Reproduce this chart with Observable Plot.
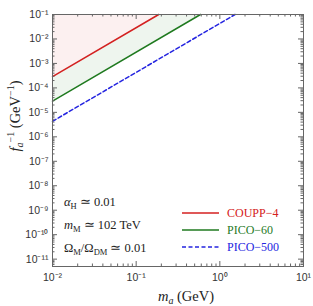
<!DOCTYPE html>
<html><head><meta charset="utf-8">
<script src="https://cdn.jsdelivr.net/npm/d3@7"></script>
<script src="https://cdn.jsdelivr.net/npm/@observablehq/plot@0.6"></script>
<style>body{margin:0;background:#fff}#c{position:relative;width:313px;height:306px}</style>
</head><body><div id="c"></div>
<script>
// Data (line endpoints: left edge and where each line exits the top)
const mCOUPP = [0.01, 0.186], fCOUPP = [2.9e-4, 0.1];
const mPICO60 = [0.01, 0.587], fPICO60 = [2.9e-5, 0.1];
const mPICO500 = [0.01, 1.52], fPICO500 = [4.3e-6, 0.1];
const xMajor = [1e-2, 1e-1, 1e0, 1e1];
const yMajor = [1e-1,1e-2,1e-3,1e-4,1e-5,1e-6,1e-7,1e-8,1e-9,1e-10,1e-11];
const seriesNames = ["COUPP\u22124", "PICO\u221260", "PICO\u2212500"];
const seriesColors = ["#d42020", "#1f7a1f", "#2424e0"];

const pts = (xs, ys) => xs.map((x, i) => ({x, y: ys[i]}));
const red = pts(mCOUPP, fCOUPP), green = pts(mPICO60, fPICO60), blue = pts(mPICO500, fPICO500);
const minorX = [], minorY = [];
for (let e = -2; e < 1; e++) for (let k = 2; k <= 9; k++) minorX.push(k * 10 ** e);
for (let e = -12; e < -1; e++) for (let k = 2; k <= 9; k++) { const v = k * 10 ** e; if (v >= 5e-12 && v <= 0.1) minorY.push(v); }

const supMap = "⁰¹²³⁴⁵⁶⁷⁸⁹";
const sup = n => "10" + String(n).replace("-", "⁻").replace(/\d/g, d => supMap[d]);
const fmt = d => sup(Math.round(Math.log10(d)));

const W = 313, H = 306, mL = 52, mR = 10, mT = 14, mB = 40;
const pw = W - mL - mR, ph = H - mT - mB;
const tc = "#666";
const chart = Plot.plot({
  width: W, height: H, marginLeft: mL, marginRight: mR, marginTop: mT, marginBottom: mB,
  style: {fontFamily: "Liberation Sans, Arial, sans-serif", fontSize: "10.5px", color: "#333", background: "#fff"},
  x: {type: "log", domain: [1e-2, 1e1]},
  y: {type: "log", domain: [5e-12, 1e-1]},
  marks: [
    Plot.areaY(green, {x: "x", y1: "y", y2: 0.1, fill: "#eef5ee"}),
    Plot.areaY(red, {x: "x", y1: "y", y2: 0.1, fill: "#fcf0f0"}),
    Plot.line(red, {x: "x", y: "y", stroke: seriesColors[0], strokeWidth: 1.5}),
    Plot.line(green, {x: "x", y: "y", stroke: seriesColors[1], strokeWidth: 1.5}),
    Plot.line(blue, {x: "x", y: "y", stroke: seriesColors[2], strokeWidth: 1.5, strokeDasharray: "4,2.5"}),
    // ticks inside frame
    Plot.tickX(xMajor, {x: d => d, insetTop: ph - 5, stroke: tc}),
    Plot.tickX(xMajor, {x: d => d, insetBottom: ph - 5, stroke: tc}),
    Plot.tickX(minorX, {x: d => d, insetTop: ph - 2.5, stroke: tc}),
    Plot.tickX(minorX, {x: d => d, insetBottom: ph - 2.5, stroke: tc}),
    Plot.tickY(yMajor, {y: d => d, insetRight: pw - 5, stroke: tc}),
    Plot.tickY(yMajor, {y: d => d, insetLeft: pw - 5, stroke: tc}),
    Plot.tickY(minorY, {y: d => d, insetRight: pw - 2.5, stroke: tc}),
    Plot.tickY(minorY, {y: d => d, insetLeft: pw - 2.5, stroke: tc}),
    Plot.axisX({ticks: xMajor, tickSize: 0, tickPadding: 7, tickFormat: fmt, label: null}),
    Plot.axisY({ticks: yMajor, tickSize: 0, tickPadding: 4, tickFormat: fmt, label: null}),
    Plot.frame({stroke: "#666", strokeWidth: 1})
  ]
});
document.getElementById("c").appendChild(chart);

const svg = d3.select(chart);
const serif = "Liberation Serif, Times New Roman, serif";
// axis labels
const xl = svg.append("text").attr("x", 186).attr("y", 301).attr("text-anchor", "middle")
  .attr("font-family", serif).attr("font-size", 14.5).attr("fill", "#222");
xl.append("tspan").attr("font-style", "italic").text("m");
xl.append("tspan").attr("font-style", "italic").attr("font-size", 10).attr("dy", 3).text("a");
xl.append("tspan").attr("dy", -3).text(" (GeV)");

const yl = svg.append("text").attr("transform", "translate(20,116) rotate(-90)").attr("text-anchor", "middle")
  .attr("font-family", serif).attr("font-size", 14.5).attr("fill", "#222");
yl.append("tspan").attr("font-style", "italic").text("f");
yl.append("tspan").attr("font-style", "italic").attr("font-size", 10).attr("dy", 3).text("a");
yl.append("tspan").attr("font-size", 10).attr("dy", -9).text("\u22121");
yl.append("tspan").attr("dy", 6).text(" (GeV");
yl.append("tspan").attr("font-size", 10).attr("dy", -6).text("\u22121");
yl.append("tspan").attr("dy", 6).text(")");

// annotations
const ann = svg.append("g").attr("font-family", serif).attr("font-size", 12.5).attr("fill", "#222").attr("text-anchor", "start");
function sub(t, base, subTxt, rest, italic) {
  t.append("tspan").attr("font-style", italic ? "italic" : null).text(base);
  t.append("tspan").attr("font-size", 8.5).attr("dy", 3).text(subTxt);
  t.append("tspan").attr("dy", -3).text(rest);
}
sub(ann.append("text").attr("x", 64).attr("y", 206), "\u03b1", "H", " \u2243 0.01", true);
sub(ann.append("text").attr("x", 64).attr("y", 229), "m", "M", " \u2243 102 TeV", true);
const om = ann.append("text").attr("x", 64).attr("y", 252);
om.append("tspan").text("\u03a9");
om.append("tspan").attr("font-size", 8.5).attr("dy", 3).text("M");
om.append("tspan").attr("dy", -3).text("/\u03a9");
om.append("tspan").attr("font-size", 8.5).attr("dy", 3).text("DM");
om.append("tspan").attr("dy", -3).text(" \u2243 0.01");

// legend
const lg = svg.append("g").attr("text-anchor", "start");
seriesNames.forEach((name, i) => {
  const y = 213 + i * 17;
  lg.append("line").attr("x1", 182).attr("x2", 219).attr("y1", y).attr("y2", y)
    .attr("stroke", seriesColors[i]).attr("stroke-width", 1.5)
    .attr("stroke-dasharray", i === 2 ? "4,2.5" : null);
  lg.append("text").attr("x", 227).attr("y", y + 4).attr("font-family", serif).attr("font-size", 12)
    .attr("fill", seriesColors[i]).text(name);
});
</script></body></html>
